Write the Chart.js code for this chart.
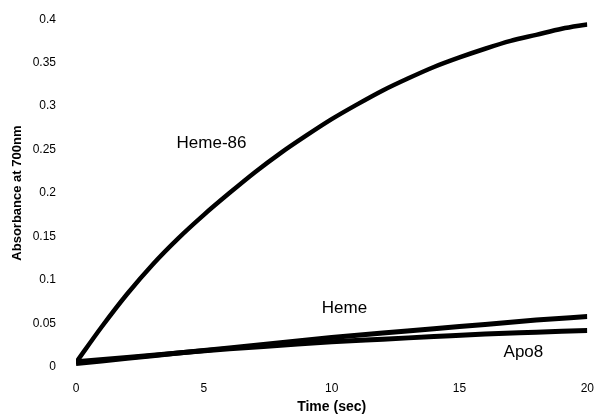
<!DOCTYPE html>
<html>
<head>
<meta charset="utf-8">
<script src="https://cdn.jsdelivr.net/npm/chart.js@4"></script>
<style>
  html, body { margin: 0; padding: 0; background: #fff; }
  #wrap { width: 600px; height: 420px; }
</style>
</head>
<body>
<div id="wrap"><canvas id="chart"></canvas></div>
<script>
'use strict';
// time in seconds
const timeHeme86 = [0, 1, 2, 3, 4, 5, 6, 7, 8, 9, 10, 11, 12, 13, 14, 15, 16, 17, 18, 19, 20];
const heme86 = [0.005, 0.046, 0.084, 0.118, 0.148, 0.175, 0.200, 0.224, 0.246, 0.266, 0.285,
    0.302, 0.318, 0.332, 0.345, 0.356, 0.366, 0.375, 0.382, 0.389, 0.394];
const timeSlow = [0, 2, 4, 6, 8, 10, 12, 14, 16, 18, 20];
const heme = [0.004, 0.010, 0.016, 0.022, 0.028, 0.034, 0.039, 0.044, 0.049, 0.054, 0.058];
const apo8 = [0.006, 0.011, 0.016, 0.021, 0.025, 0.029, 0.032, 0.035, 0.038, 0.040, 0.042];
// curve labels, placed in data units
const curveLabels = [
    { text: 'Heme-86', x: 5.3, y: 0.257 },
    { text: 'Heme', x: 10.5, y: 0.068 },
    { text: 'Apo8', x: 17.5, y: 0.017 }
];

const FONT = '"Liberation Sans", Arial, sans-serif';
const toXY = (xs, ys) => ys.map((y, i) => ({ x: xs[i], y }));

const labelPlugin = {
    id: 'curveLabels',
    afterDatasetsDraw(chart) {
        const { ctx, scales } = chart;
        ctx.save();
        ctx.font = '17px ' + FONT;
        ctx.fillStyle = '#000';
        ctx.textAlign = 'center';
        ctx.textBaseline = 'middle';
        curveLabels.forEach(l => {
            ctx.fillText(l.text, scales.x.getPixelForValue(l.x), scales.y.getPixelForValue(l.y));
        });
        ctx.restore();
    }
};

const line = (label, data, width) => ({
    label,
    data,
    borderColor: '#000',
    borderWidth: width,
    pointRadius: 0,
    cubicInterpolationMode: 'monotone',
    fill: false
});

new Chart(document.getElementById('chart'), {
    type: 'line',
    data: {
        datasets: [
            line('Heme-86', toXY(timeHeme86, heme86), 4.5),
            line('Heme', toXY(timeSlow, heme), 5),
            line('Apo8', toXY(timeSlow, apo8), 5)
        ]
    },
    plugins: [labelPlugin],
    options: {
        responsive: true,
        maintainAspectRatio: false,
        animation: false,
        layout: { padding: { top: 19, right: 12, left: 0, bottom: 0 } },
        plugins: { legend: { display: false }, tooltip: { enabled: false } },
        scales: {
            x: {
                type: 'linear',
                min: 0,
                max: 20,
                afterFit: s => { s.height = 53; },
                grid: { display: false },
                border: { display: false },
                ticks: {
                    stepSize: 5,
                    color: '#000',
                    padding: 6,
                    font: { family: FONT, size: 12 }
                },
                title: {
                    display: true,
                    text: 'Time (sec)',
                    color: '#000',
                    padding: { top: 2 },
                    font: { family: FONT, size: 14, weight: 'bold' }
                }
            },
            y: {
                min: 0,
                max: 0.4,
                afterFit: s => { s.width = 76; },
                grid: { display: false },
                border: { display: false },
                ticks: {
                    stepSize: 0.05,
                    color: '#000',
                    padding: 12,
                    font: { family: FONT, size: 12 },
                    callback: v => String(parseFloat(v.toFixed(2)))
                },
                title: {
                    display: true,
                    text: 'Absorbance at 700nm',
                    color: '#000',
                    padding: { top: 10, bottom: 4 },
                    font: { family: FONT, size: 13, weight: 'bold' }
                }
            }
        }
    }
});
</script>
</body>
</html>
